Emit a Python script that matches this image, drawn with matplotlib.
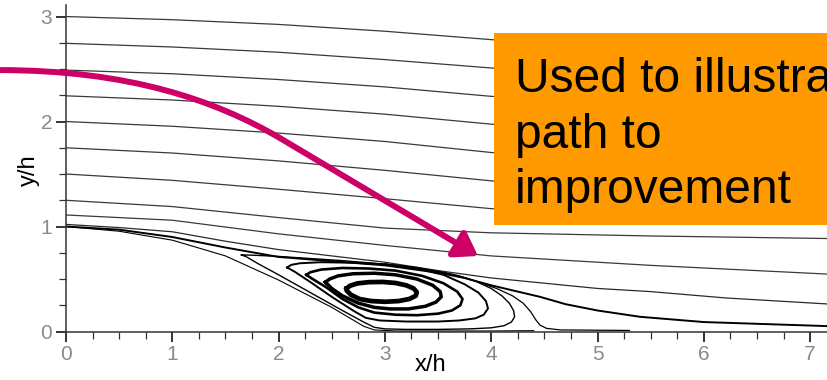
import matplotlib
matplotlib.use("Agg")
import matplotlib.pyplot as plt
from matplotlib.patches import FancyArrowPatch, Rectangle
from matplotlib.path import Path
from matplotlib.ticker import MultipleLocator

plt.rcParams["font.family"] = ["Liberation Sans", "DejaVu Sans"]

# Outer-flow streamlines, sampled at common stations x/h
STATIONS = [0.0, 1.0, 2.0, 3.0, 4.0, 5.5, 7.2]
OUTER_LINES = [
    [3.00, 2.97, 2.925, 2.86, 2.78, 2.70, 2.62],
    [2.745, 2.71, 2.66, 2.59, 2.51, 2.43, 2.35],
    [2.49, 2.455, 2.40, 2.33, 2.24, 2.15, 2.06],
    [2.245, 2.205, 2.145, 2.07, 1.975, 1.88, 1.79],
    [2.00, 1.955, 1.89, 1.81, 1.705, 1.61, 1.52],
    [1.75, 1.70, 1.625, 1.535, 1.435, 1.34, 1.26],
    [1.50, 1.44, 1.355, 1.265, 1.17, 1.09, 1.04],
    [1.25, 1.19, 1.085, 0.985, 0.94, 0.91, 0.885],
    [1.11, 1.06, 0.93, 0.82, 0.72, 0.63, 0.545],
]

# Streamline that grazes the ramp and is lifted over the bubble
SHEAR_X = [0.0, 0.5, 1.0, 1.5, 2.0, 2.5, 3.0, 3.5, 4.0, 4.5, 5.0, 5.5, 6.2, 7.2]
SHEAR_Y = [1.02, 0.99, 0.95, 0.86, 0.78, 0.72, 0.66, 0.58, 0.51, 0.46, 0.41, 0.38, 0.32, 0.26]

# Dividing streamline over the separation bubble
DIVIDING_X = [0.0, 0.5, 1.0, 1.5, 2.0, 2.5, 3.0, 3.5, 3.75, 4.0, 4.25, 4.46, 4.7, 5.0, 5.4, 6.0, 7.2]
DIVIDING_Y = [1.0, 0.97, 0.90, 0.80, 0.71, 0.67, 0.63, 0.56, 0.51, 0.44, 0.38, 0.33, 0.26, 0.20, 0.14, 0.09, 0.05]

# Streamline along the ramp surface
WALL_X = [0.0, 0.5, 1.0, 1.5, 2.0, 2.5, 2.8, 2.9, 3.1, 4.0, 4.4]
WALL_Y = [1.0, 0.955, 0.87, 0.72, 0.49, 0.23, 0.05, 0.015, 0.005, 0.005, 0.008]

# Reattaching streamline at the rear of the bubble
REATTACH_X = [3.0, 3.3, 3.6, 3.85, 4.05, 4.2, 4.3, 4.37, 4.42, 4.46, 4.52, 4.65, 5.3]
REATTACH_Y = [0.645, 0.61, 0.55, 0.48, 0.41, 0.34, 0.27, 0.19, 0.11, 0.06, 0.03, 0.015, 0.01]

# Closed recirculation loops, outermost first
LOOPS_X = [
    [1.65, 1.8, 2.0, 2.3, 2.6, 2.9, 3.2, 3.5, 3.7, 3.85, 4.0, 4.1, 4.17, 4.21, 4.22, 4.19,
     4.12, 4.0, 3.8, 3.5, 3.2, 3.0, 2.9, 2.8, 2.6, 2.3, 2.0, 1.8, 1.7, 1.65],
    [2.08, 2.12, 2.2, 2.4, 2.7, 3.0, 3.3, 3.55, 3.75, 3.88, 3.95, 3.97, 3.93, 3.85, 3.7,
     3.5, 3.2, 2.95, 2.82, 2.7, 2.5, 2.3, 2.15, 2.08],
    [2.26, 2.3, 2.4, 2.6, 2.85, 3.1, 3.35, 3.55, 3.68, 3.73, 3.71, 3.63, 3.5, 3.3, 3.1,
     2.9, 2.75, 2.6, 2.45, 2.32, 2.26],
    [2.44, 2.48, 2.56, 2.7, 2.9, 3.1, 3.3, 3.45, 3.52, 3.53, 3.48, 3.38, 3.22, 3.05, 2.9,
     2.75, 2.6, 2.5, 2.44],
    [2.64, 2.67, 2.74, 2.85, 2.98, 3.1, 3.2, 3.27, 3.30, 3.29, 3.23, 3.13, 3.0, 2.87, 2.76,
     2.68, 2.64, 2.64],
]
LOOPS_Y = [
    [0.73, 0.725, 0.715, 0.695, 0.675, 0.65, 0.62, 0.575, 0.53, 0.48, 0.41, 0.34, 0.27, 0.20,
     0.14, 0.09, 0.055, 0.035, 0.025, 0.02, 0.02, 0.025, 0.04, 0.09, 0.20, 0.37, 0.54, 0.65,
     0.71, 0.73],
    [0.61, 0.635, 0.65, 0.66, 0.655, 0.64, 0.60, 0.54, 0.45, 0.37, 0.29, 0.22, 0.16, 0.125,
     0.105, 0.095, 0.095, 0.105, 0.13, 0.20, 0.33, 0.47, 0.57, 0.61],
    [0.54, 0.565, 0.59, 0.605, 0.60, 0.58, 0.53, 0.46, 0.38, 0.31, 0.25, 0.20, 0.17, 0.155,
     0.16, 0.18, 0.23, 0.31, 0.42, 0.50, 0.54],
    [0.47, 0.50, 0.53, 0.55, 0.555, 0.54, 0.50, 0.44, 0.38, 0.33, 0.28, 0.24, 0.215, 0.215,
     0.23, 0.27, 0.34, 0.41, 0.47],
    [0.41, 0.435, 0.458, 0.47, 0.472, 0.462, 0.44, 0.41, 0.375, 0.34, 0.31, 0.29, 0.283,
     0.29, 0.31, 0.35, 0.39, 0.41],
]
LOOP_WIDTHS = [1.0, 1.4, 1.9, 2.5, 3.4]

X_TICKS = [0, 1, 2, 3, 4, 5, 6, 7]
Y_TICKS = [0, 1, 2, 3]

fig = plt.figure(figsize=(8.28, 3.80), dpi=100)
ax = fig.add_axes([66 / 828, 48.5 / 380, 762 / 828, 326.5 / 380])

for ys in OUTER_LINES:
    ax.plot(STATIONS, ys, color="#3a3a3a", lw=0.9)
ax.plot(SHEAR_X, SHEAR_Y, color="#2a2a2a", lw=0.9)
ax.plot(DIVIDING_X, DIVIDING_Y, color="black", lw=1.4, solid_joinstyle="round")
ax.plot(WALL_X, WALL_Y, color="black", lw=0.8)
ax.plot(REATTACH_X, REATTACH_Y, color="black", lw=0.9, solid_joinstyle="round")
for xs, ys, w in zip(LOOPS_X, LOOPS_Y, LOOP_WIDTHS):
    ax.plot(xs, ys, color="black", lw=w, solid_joinstyle="round")

ax.set_xlim(0, 7.168)
ax.set_ylim(0, 3.11)
ax.set_xticks(X_TICKS)
ax.set_yticks(Y_TICKS)
ax.xaxis.set_minor_locator(MultipleLocator(0.25))
ax.yaxis.set_minor_locator(MultipleLocator(0.25))
ax.tick_params(which="major", direction="out", length=7, width=1.4,
               color="#333333", labelcolor="#8a8a8a", labelsize=15, pad=3)
ax.tick_params(which="minor", direction="out", length=5, width=0.9, color="#333333")
for side in ("top", "right"):
    ax.spines[side].set_visible(False)
for side in ("left", "bottom"):
    ax.spines[side].set_color("#333333")
    ax.spines[side].set_linewidth(1.1)
ax.set_xlabel("x/h", fontsize=17, va="center")
ax.set_ylabel("y/h", fontsize=17, va="center")
ax.xaxis.set_label_coords(0.478, -0.103)
ax.yaxis.set_label_coords(-0.049, 0.495)

# Call-out box overlapping the right part of the plot
box = Rectangle((494 / 828, 155 / 380), 400 / 828, 192 / 380, transform=fig.transFigure,
                facecolor="#ff9900", edgecolor="none", zorder=5)
fig.patches.append(box)
fig.text(515 / 828, 177 / 380, "Used to illustrate\npath to\nimprovement",
         fontsize=34.5, color="black", va="baseline", ha="left",
         linespacing=1.30, zorder=6)

# Curved pointer arrow into the shear layer
verts = [(-0.63, 2.49), (0.6, 2.49), (1.4, 2.2), (2.0, 1.85), (3.876, 0.719)]
codes = [Path.MOVETO, Path.CURVE4, Path.CURVE4, Path.CURVE4, Path.LINETO]
arrow = FancyArrowPatch(path=Path(verts, codes), arrowstyle="-|>,head_length=0.45,head_width=0.3",
                        mutation_scale=30, color="#cc0066", lw=4.3, clip_on=False, zorder=7)
ax.add_patch(arrow)

fig.savefig("out.png", dpi=100)
